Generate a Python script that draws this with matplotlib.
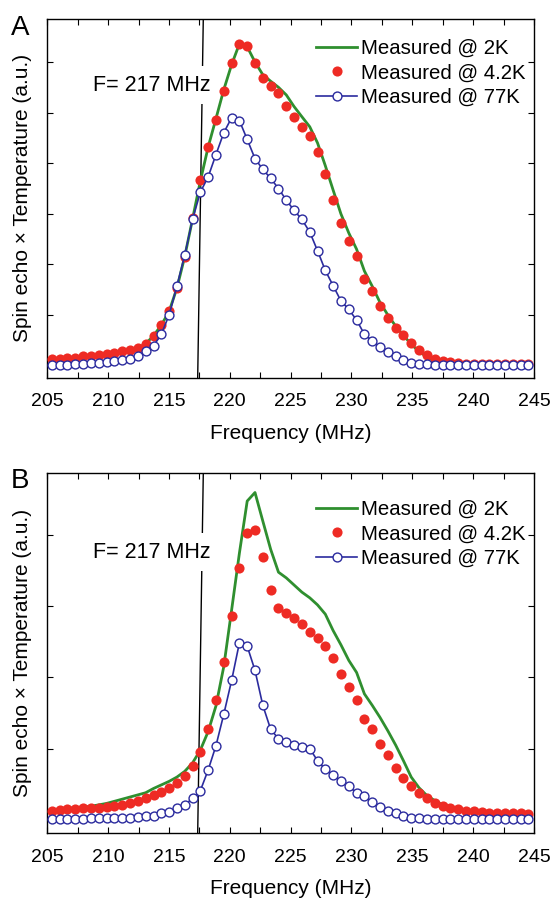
import matplotlib
matplotlib.use('Agg')
import matplotlib.pyplot as plt
from matplotlib.ticker import MultipleLocator

plt.rcParams['font.family'] = ['Liberation Sans', 'DejaVu Sans']

# frequency grid (MHz)
freq = [205.38, 206.02, 206.66, 207.31, 207.95, 208.59, 209.23, 209.87, 210.52, 211.16,
        211.80, 212.44, 213.08, 213.73, 214.37, 215.01, 215.65, 216.29, 216.94, 217.58,
        218.22, 218.86, 219.50, 220.15, 220.79, 221.43, 222.07, 222.71, 223.36, 224.00,
        224.64, 225.28, 225.92, 226.57, 227.21, 227.85, 228.49, 229.13, 229.78, 230.42,
        231.06, 231.70, 232.34, 232.99, 233.63, 234.27, 234.91, 235.55, 236.20, 236.84,
        237.48, 238.12, 238.76, 239.41, 240.05, 240.69, 241.33, 241.97, 242.62, 243.26,
        243.90, 244.54]

# panel A
a_2k = [0.14, 0.14, 0.16, 0.16, 0.18, 0.19, 0.20, 0.22, 0.24, 0.28,
        0.31, 0.35, 0.43, 0.59, 0.80, 1.07, 1.53, 2.15, 2.90, 3.65,
        4.32, 4.88, 5.45, 5.95, 6.36, 6.30, 6.00, 5.75, 5.62, 5.50,
        5.35, 5.12, 4.92, 4.72, 4.40, 3.95, 3.47, 3.00, 2.62, 2.30,
        1.87, 1.57, 1.25, 1.00, 0.78, 0.60, 0.42, 0.28, 0.17, 0.10,
        0.07, 0.05, 0.04, 0.04, 0.03, 0.03, 0.03, 0.03, 0.03, 0.03,
        0.03, 0.03]
a_4k = [0.14, 0.14, 0.16, 0.16, 0.18, 0.19, 0.20, 0.22, 0.24, 0.28,
        0.31, 0.35, 0.43, 0.59, 0.80, 1.07, 1.53, 2.15, 2.91, 3.66,
        4.32, 4.86, 5.43, 5.99, 6.35, 6.31, 5.99, 5.68, 5.52, 5.38,
        5.14, 4.91, 4.72, 4.53, 4.22, 3.78, 3.27, 2.82, 2.47, 2.17,
        1.71, 1.47, 1.18, 0.95, 0.74, 0.61, 0.44, 0.31, 0.21, 0.13,
        0.09, 0.07, 0.05, 0.04, 0.03, 0.03, 0.03, 0.03, 0.03, 0.03,
        0.03, 0.03]
a_77k = [0.01, 0.01, 0.01, 0.03, 0.03, 0.05, 0.06, 0.08, 0.09, 0.11,
         0.13, 0.19, 0.28, 0.39, 0.62, 1.00, 1.57, 2.18, 2.89, 3.43,
         3.73, 4.17, 4.60, 4.90, 4.84, 4.47, 4.09, 3.88, 3.70, 3.50,
         3.27, 3.07, 2.89, 2.64, 2.27, 1.88, 1.58, 1.28, 1.11, 0.90,
         0.62, 0.49, 0.36, 0.26, 0.18, 0.11, 0.06, 0.04, 0.03, 0.02,
         0.02, 0.01, 0.01, 0.01, 0.01, 0.01, 0.01, 0.01, 0.01, 0.01,
         0.01, 0.01]

# panel B
b_2k = [0.14, 0.15, 0.16, 0.17, 0.18, 0.19, 0.21, 0.23, 0.26, 0.29,
        0.32, 0.35, 0.38, 0.44, 0.49, 0.54, 0.60, 0.68, 0.80, 0.98,
        1.24, 1.60, 2.15, 2.95, 3.75, 4.48, 4.60, 4.20, 3.80, 3.48,
        3.40, 3.30, 3.20, 3.12, 3.02, 2.89, 2.66, 2.46, 2.24, 2.07,
        1.77, 1.61, 1.44, 1.25, 1.05, 0.83, 0.60, 0.45, 0.34, 0.27,
        0.21, 0.17, 0.14, 0.12, 0.11, 0.10, 0.09, 0.08, 0.07, 0.07,
        0.07, 0.07]
b_4k = [0.13, 0.14, 0.15, 0.15, 0.16, 0.17, 0.17, 0.18, 0.19, 0.21,
        0.24, 0.26, 0.31, 0.35, 0.39, 0.45, 0.51, 0.62, 0.75, 0.95,
        1.27, 1.68, 2.22, 2.87, 3.54, 4.03, 4.07, 3.69, 3.23, 2.98,
        2.91, 2.84, 2.75, 2.64, 2.55, 2.44, 2.27, 2.05, 1.86, 1.69,
        1.41, 1.28, 1.06, 0.91, 0.73, 0.59, 0.48, 0.38, 0.30, 0.24,
        0.20, 0.17, 0.15, 0.13, 0.12, 0.11, 0.10, 0.10, 0.09, 0.09,
        0.09, 0.08]
b_77k = [0.01, 0.01, 0.01, 0.01, 0.01, 0.02, 0.02, 0.02, 0.02, 0.03,
         0.03, 0.04, 0.05, 0.06, 0.09, 0.11, 0.16, 0.21, 0.30, 0.41,
         0.70, 1.04, 1.48, 1.96, 2.49, 2.44, 2.10, 1.61, 1.27, 1.14,
         1.09, 1.05, 1.02, 1.00, 0.83, 0.71, 0.63, 0.54, 0.47, 0.38,
         0.33, 0.25, 0.18, 0.12, 0.09, 0.05, 0.03, 0.02, 0.01, 0.01,
         0.01, 0.01, 0.01, 0.01, 0.01, 0.01, 0.01, 0.01, 0.01, 0.01,
         0.01, 0.01]

labels = ['Measured @ 2K', 'Measured @ 4.2K', 'Measured @ 77K']
marker_line = [217.36, 217.82]   # F = 217 MHz guide (bottom, top)

green = '#2f8f2f'
red = '#ee2b24'
blue = '#2b2b9e'

fig = plt.figure(figsize=(5.53, 8.98), dpi=100)
axA = fig.add_axes([47.3 / 553, 1 - 378 / 898, 486.7 / 553, 359.5 / 898])
axB = fig.add_axes([47.3 / 553, 1 - 833.3 / 898, 486.7 / 553, 360 / 898])


def draw_panel(ax, y2k, y4k, y77k, ylim, nticks, leg_y, text_y):
    ax.plot(marker_line, ylim, color='black', lw=1.0, zorder=1)
    ax.text(0.0945, text_y, 'F= 217 MHz', transform=ax.transAxes, fontsize=15.5,
            ha='left', va='center', zorder=2,
            bbox=dict(facecolor='white', edgecolor='none', pad=6))
    ax.plot(freq, y2k, color=green, lw=2.0, zorder=3, label=labels[0])
    ax.plot(freq, y4k, 'o', color=red, ms=7.3, mec='none', zorder=4, label=labels[1])
    ax.plot(freq, y77k, '-o', color=blue, lw=1.2, ms=6.4, mfc='white', mec=blue,
            mew=1.0, zorder=5, label=labels[2])

    ax.set_xlim(205, 245)
    ax.set_ylim(ylim)
    ax.xaxis.set_major_locator(MultipleLocator(5))
    ax.xaxis.set_minor_locator(MultipleLocator(2.5))
    ax.set_yticks(range(1, nticks + 1))
    ax.tick_params(which='both', direction='in', top=True, right=True,
                   length=4, width=0.8, labelsize=14, pad=11, labelleft=False)
    for s in ax.spines.values():
        s.set_linewidth(1.0)
    ax.set_xlabel('Frequency (MHz)', fontsize=15, labelpad=10)
    ax.set_ylabel('Spin echo \u00d7 Temperature (a.u.)', fontsize=15, labelpad=11)
    ax.legend(loc='upper right', bbox_to_anchor=(0.983, leg_y), frameon=False,
              fontsize=14.7, handlelength=2.0, handletextpad=0.2, labelspacing=0.27,
              borderaxespad=0, borderpad=0, numpoints=1)


draw_panel(axA, a_2k, a_4k, a_77k, (-0.245, 6.86), 6, 0.943, 0.815)
draw_panel(axB, b_2k, b_4k, b_77k, (-0.19, 4.87), 4, 0.926, 0.781)

fig.text(11 / 553, 1 - 35 / 898, 'A', fontsize=20, ha='left', va='baseline')
fig.text(11 / 553, 1 - 488 / 898, 'B', fontsize=20, ha='left', va='baseline')

fig.savefig('out.png', dpi=100)
